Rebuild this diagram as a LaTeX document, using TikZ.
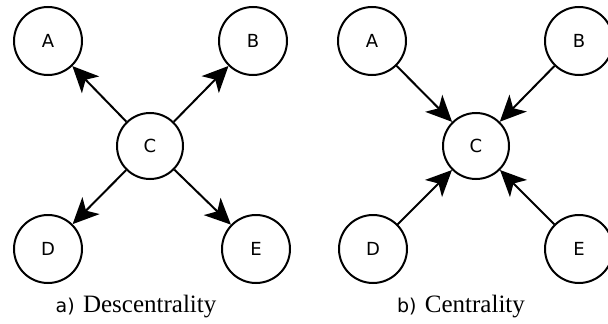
\documentclass[tikz,border=0pt]{standalone}
\usepackage{fontspec}
\setmainfont{Liberation Serif}
\newfontfamily\lblfont{DejaVu Sans}
\usetikzlibrary{arrows.meta}
\tikzset{
  vtx/.style={circle, draw, line width=2pt, minimum size=68pt, inner sep=0pt, font=\lblfont\fontsize{18}{18}\selectfont},
  cvtx/.style={vtx, minimum size=66pt},
  arr/.style={line width=2pt, -{Stealth[length=26pt,width=24pt,inset=7pt]}, shorten >=0pt},
  captext/.style={anchor=base, inner sep=0pt, font=\fontsize{25}{25}\selectfont},
}
\begin{document}
\begin{tikzpicture}[x=1pt,y=-1pt]
\useasboundingbox (0,0) rectangle (608,324);
\clip (0,0) rectangle (608,324);
% left panel
\node[vtx] (lA) at (48,41) {A};
\node[vtx] (lB) at (253,41) {B};
\node[cvtx] (lC) at (150,146) {C};
\node[vtx] (lD) at (48,249) {D};
\node[vtx] (lE) at (256,249) {E};
\draw[arr] (lC) -- (lA);
\draw[arr] (lC) -- (lB);
\draw[arr] (lC) -- (lD);
\draw[arr] (lC) -- (lE);
\node[captext] (capa) at (136,312) {{\lblfont\fontsize{19}{19}\selectfont a)}\,\,Descentrality};
% right panel
\node[vtx] (rA) at (372,41) {A};
\node[vtx] (rB) at (579,41) {B};
\node[cvtx] (rC) at (476,146) {C};
\node[vtx] (rD) at (373,249) {D};
\node[vtx] (rE) at (579,249) {E};
\draw[arr] (rA) -- (rC);
\draw[arr] (rB) -- (rC);
\draw[arr] (rD) -- (rC);
\draw[arr] (rE) -- (rC);
\node[captext] (capb) at (461,312) {{\lblfont\fontsize{19}{19}\selectfont b)}\,\,Centrality};
\end{tikzpicture}
\end{document}
